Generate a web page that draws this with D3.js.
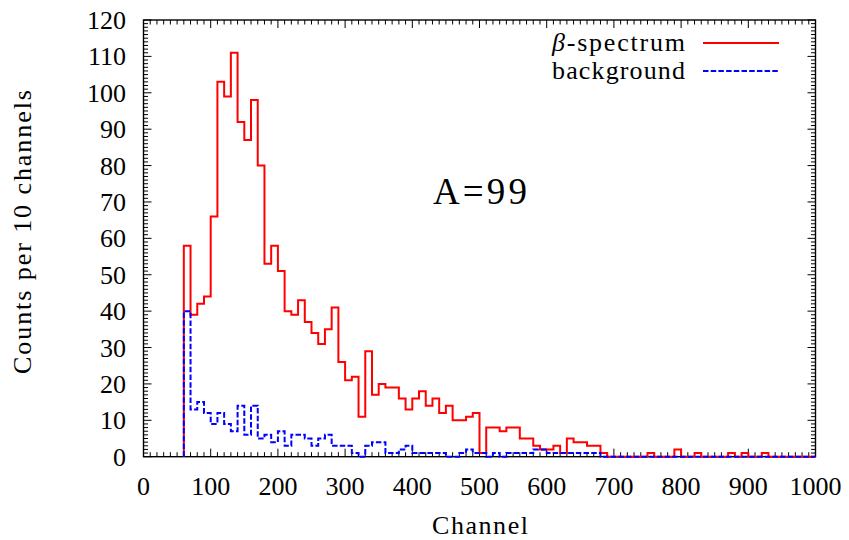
<!DOCTYPE html>
<html>
<head>
<meta charset="utf-8">
<script src="https://cdn.jsdelivr.net/npm/d3@7"></script>
<style>
  body { margin: 0; background: #fff; }
  text { font-family: "Liberation Serif", "Times New Roman", serif; fill: #000; }
</style>
</head>
<body>
<script>
// Histogram bins: 10 channels each, first bin starts at channel 60
const binStart = 60;
const binWidth = 10;

// beta-spectrum counts per bin
const betaCounts = [
  58, 39, 42, 44, 66, 103, 99, 111, 92, 87,
  98, 80, 53, 58, 51, 40, 39, 43, 37, 34,
  31, 35, 41, 26, 21, 22, 11, 29, 17, 20,
  19, 19, 16, 13, 16, 18, 14, 16, 12, 14,
  10, 10, 11, 12, 1, 8, 8, 7, 8, 8,
  5, 5, 3, 2, 2, 3, 1, 5, 4, 4,
  3, 3, 1, 0, 0, 0, 0, 0, 0, 1,
  0, 0, 0, 2, 0, 0, 1, 0, 0, 0,
  0, 1, 0, 1, 0, 0, 1, 0, 0, 0,
  0, 0, 0, 0
];

// background counts per bin
const backgroundCounts = [
  40, 13, 15, 12, 9, 12, 9, 7, 14, 6,
  14, 5, 6, 4, 7, 3, 6, 6, 5, 3,
  5, 6, 3, 3, 3, 1, 0, 3, 4, 4,
  1, 1, 2, 3, 1, 1, 1, 1, 1, 0,
  0, 1, 2, 1, 1, 0, 1, 0, 1, 1,
  1, 1, 2, 2, 1, 1, 1, 1, 1, 1,
  1, 1, 0, 0, 0, 0, 0, 0, 0, 0,
  0, 0, 0, 0, 0, 0, 0, 0, 0, 0,
  0, 0, 0, 0, 0, 0, 0, 0, 0, 0,
  0, 0, 0, 0
];

const xTickValues = d3.range(0, 1001, 100);
const yTickValues = d3.range(0, 121, 10);
const xLabel = "Channel";
const yLabel = "Counts per 10 channels";
const annotation = "A=99";
// legend entries: [italic symbol, plain remainder]
const seriesNames = [["\u03B2", "-spectrum"], ["", "background"]];

const W = 849, H = 540;
const plot = { left: 143.5, right: 815.5, top: 20, bottom: 456.7 };

const svg = d3.select("body").append("svg")
  .attr("width", W).attr("height", H)
  .attr("viewBox", `0 0 ${W} ${H}`);

const x = d3.scaleLinear().domain([0, 1000]).range([plot.left, plot.right]);
const y = d3.scaleLinear().domain([0, 120]).range([plot.bottom, plot.top]);

// Inward ticks on all four sides (major + minor)
const majorLen = 8, minorLen = 4.5;
const tickG = svg.append("g").attr("stroke", "#000").attr("stroke-width", 1);
d3.range(0, 1001, 10).forEach(v => {
  const len = v % 100 === 0 ? majorLen : minorLen;
  tickG.append("line").attr("x1", x(v)).attr("x2", x(v)).attr("y1", plot.bottom).attr("y2", plot.bottom - len);
  tickG.append("line").attr("x1", x(v)).attr("x2", x(v)).attr("y1", plot.top).attr("y2", plot.top + len);
});
d3.range(0, 121, 1).forEach(v => {
  const len = v % 10 === 0 ? majorLen : minorLen;
  tickG.append("line").attr("y1", y(v)).attr("y2", y(v)).attr("x1", plot.left).attr("x2", plot.left + len);
  tickG.append("line").attr("y1", y(v)).attr("y2", y(v)).attr("x1", plot.right).attr("x2", plot.right - len);
});

// Frame
svg.append("rect")
  .attr("x", plot.left).attr("y", plot.top)
  .attr("width", plot.right - plot.left).attr("height", plot.bottom - plot.top)
  .attr("fill", "none").attr("stroke", "#000").attr("stroke-width", 1.4);

// Tick labels
svg.append("g").selectAll("text").data(xTickValues).join("text")
  .attr("x", d => x(d)).attr("y", 495)
  .attr("text-anchor", "middle").attr("font-size", 26)
  .text(d => d);
svg.append("g").selectAll("text").data(yTickValues).join("text")
  .attr("x", 126).attr("y", d => y(d) + 9)
  .attr("text-anchor", "end").attr("font-size", 26)
  .text(d => d);

// Axis titles
svg.append("text")
  .attr("x", 480).attr("y", 534)
  .attr("text-anchor", "middle").attr("font-size", 26)
  .attr("textLength", 96).attr("lengthAdjust", "spacing")
  .text(xLabel);
svg.append("text")
  .attr("transform", "translate(31,232) rotate(-90)")
  .attr("text-anchor", "middle").attr("font-size", 26)
  .attr("textLength", 284).attr("lengthAdjust", "spacing")
  .text(yLabel);

// Step histograms
svg.append("clipPath").attr("id", "plotclip")
  .append("rect").attr("x", plot.left).attr("y", plot.top - 2)
  .attr("width", plot.right - plot.left).attr("height", plot.bottom - plot.top + 4);

function stepPoints(counts) {
  const pts = [[binStart, 0]];
  counts.forEach((c, i) => pts.push([binStart + i * binWidth, c]));
  pts.push([binStart + counts.length * binWidth, counts[counts.length - 1]]);
  return pts;
}
const stepLine = d3.line()
  .x(d => x(d[0])).y(d => y(d[1]))
  .curve(d3.curveStepAfter);

const series = [
  { name: seriesNames[0], counts: betaCounts, color: "#ff0000", dash: null },
  { name: seriesNames[1], counts: backgroundCounts, color: "#0000ff", dash: "5.5,2.2" }
];

const seriesG = svg.append("g").attr("clip-path", "url(#plotclip)");
series.forEach(s => {
  seriesG.append("path")
    .attr("d", stepLine(stepPoints(s.counts)))
    .attr("fill", "none")
    .attr("stroke", s.color)
    .attr("stroke-width", 2)
    .attr("stroke-dasharray", s.dash);
});

// Legend
const legend = svg.append("g");
series.forEach((s, i) => {
  const ly = 43 + i * 28;
  const t = legend.append("text")
    .attr("x", 685).attr("y", ly + 8)
    .attr("text-anchor", "end").attr("font-size", 26)
    .attr("textLength", 133).attr("lengthAdjust", "spacing");
  if (s.name[0]) t.append("tspan").attr("font-style", "italic").text(s.name[0]);
  t.append("tspan").text(s.name[1]);
  legend.append("line")
    .attr("x1", 703).attr("x2", 779).attr("y1", ly).attr("y2", ly)
    .attr("stroke", s.color).attr("stroke-width", 2)
    .attr("stroke-dasharray", s.dash);
});

// Annotation
svg.append("text")
  .attr("x", 480).attr("y", 204)
  .attr("text-anchor", "middle").attr("font-size", 37)
  .attr("textLength", 94).attr("lengthAdjust", "spacing")
  .text(annotation);
</script>
</body>
</html>
